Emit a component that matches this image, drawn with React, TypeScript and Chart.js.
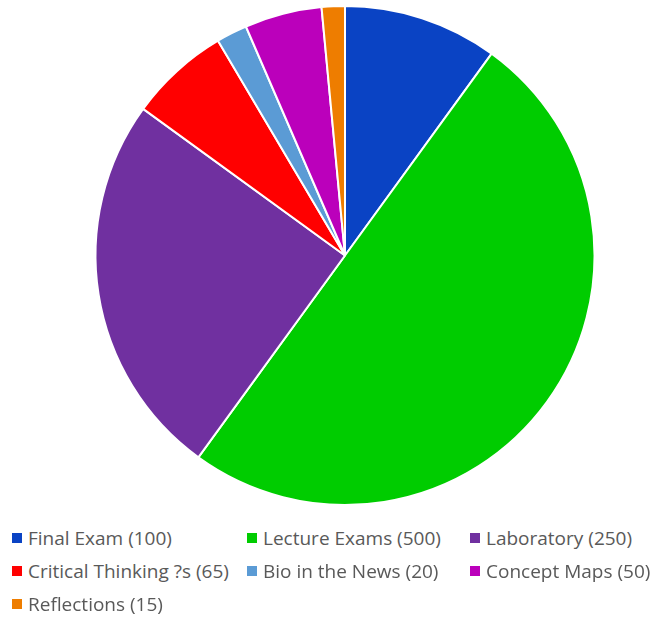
import React, { useEffect, useRef } from "react";
import { Chart, registerables } from "chart.js";

Chart.register(...registerables);

const categories = [
  "Final Exam",
  "Lecture Exams",
  "Laboratory",
  "Critical Thinking ?s",
  "Bio in the News",
  "Concept Maps",
  "Reflections",
];
const points = [100, 500, 250, 65, 20, 50, 15];
const colors = ["#0A43C4", "#00CC00", "#7030A0", "#FF0000", "#5B9BD5", "#BB00BB", "#EE7D00"];

const colX = [12, 247, 470];
const rowY = [538, 571, 604];

export default function App() {
  const ref = useRef<HTMLCanvasElement | null>(null);
  useEffect(() => {
    if (!ref.current) return;
    const chart = new Chart(ref.current, {
      type: "pie",
      data: {
        labels: categories.map((c, i) => `${c} (${points[i]})`),
        datasets: [
          {
            data: points,
            backgroundColor: colors,
            borderColor: "#ffffff",
            borderWidth: 2,
          },
        ],
      },
      options: {
        animation: false,
        responsive: false,
        layout: { padding: { left: 40, right: 0, top: 5, bottom: 0 } },
        plugins: { legend: { display: false }, tooltip: { enabled: false } },
      },
    });
    return () => chart.destroy();
  }, []);

  return (
    <div style={{ position: "fixed", left: 0, top: 0, width: 650, height: 617, background: "#fff" }}>
      <canvas ref={ref} width={650} height={506} style={{ position: "absolute", left: 0, top: 0 }} />
      {categories.map((c, i) => (
        <div
          key={c}
          style={{
            position: "absolute",
            left: colX[i % 3],
            top: rowY[Math.floor(i / 3)] - 14,
            height: 28,
            display: "flex",
            alignItems: "center",
            fontFamily: "'Open Sans', sans-serif",
            fontSize: 19,
            color: "#595959",
            whiteSpace: "nowrap",
          }}
        >
          <span style={{ display: "inline-block", width: 10, height: 10, background: colors[i], marginRight: 6 }} />
          {`${c} (${points[i]})`}
        </div>
      ))}
    </div>
  );
}
